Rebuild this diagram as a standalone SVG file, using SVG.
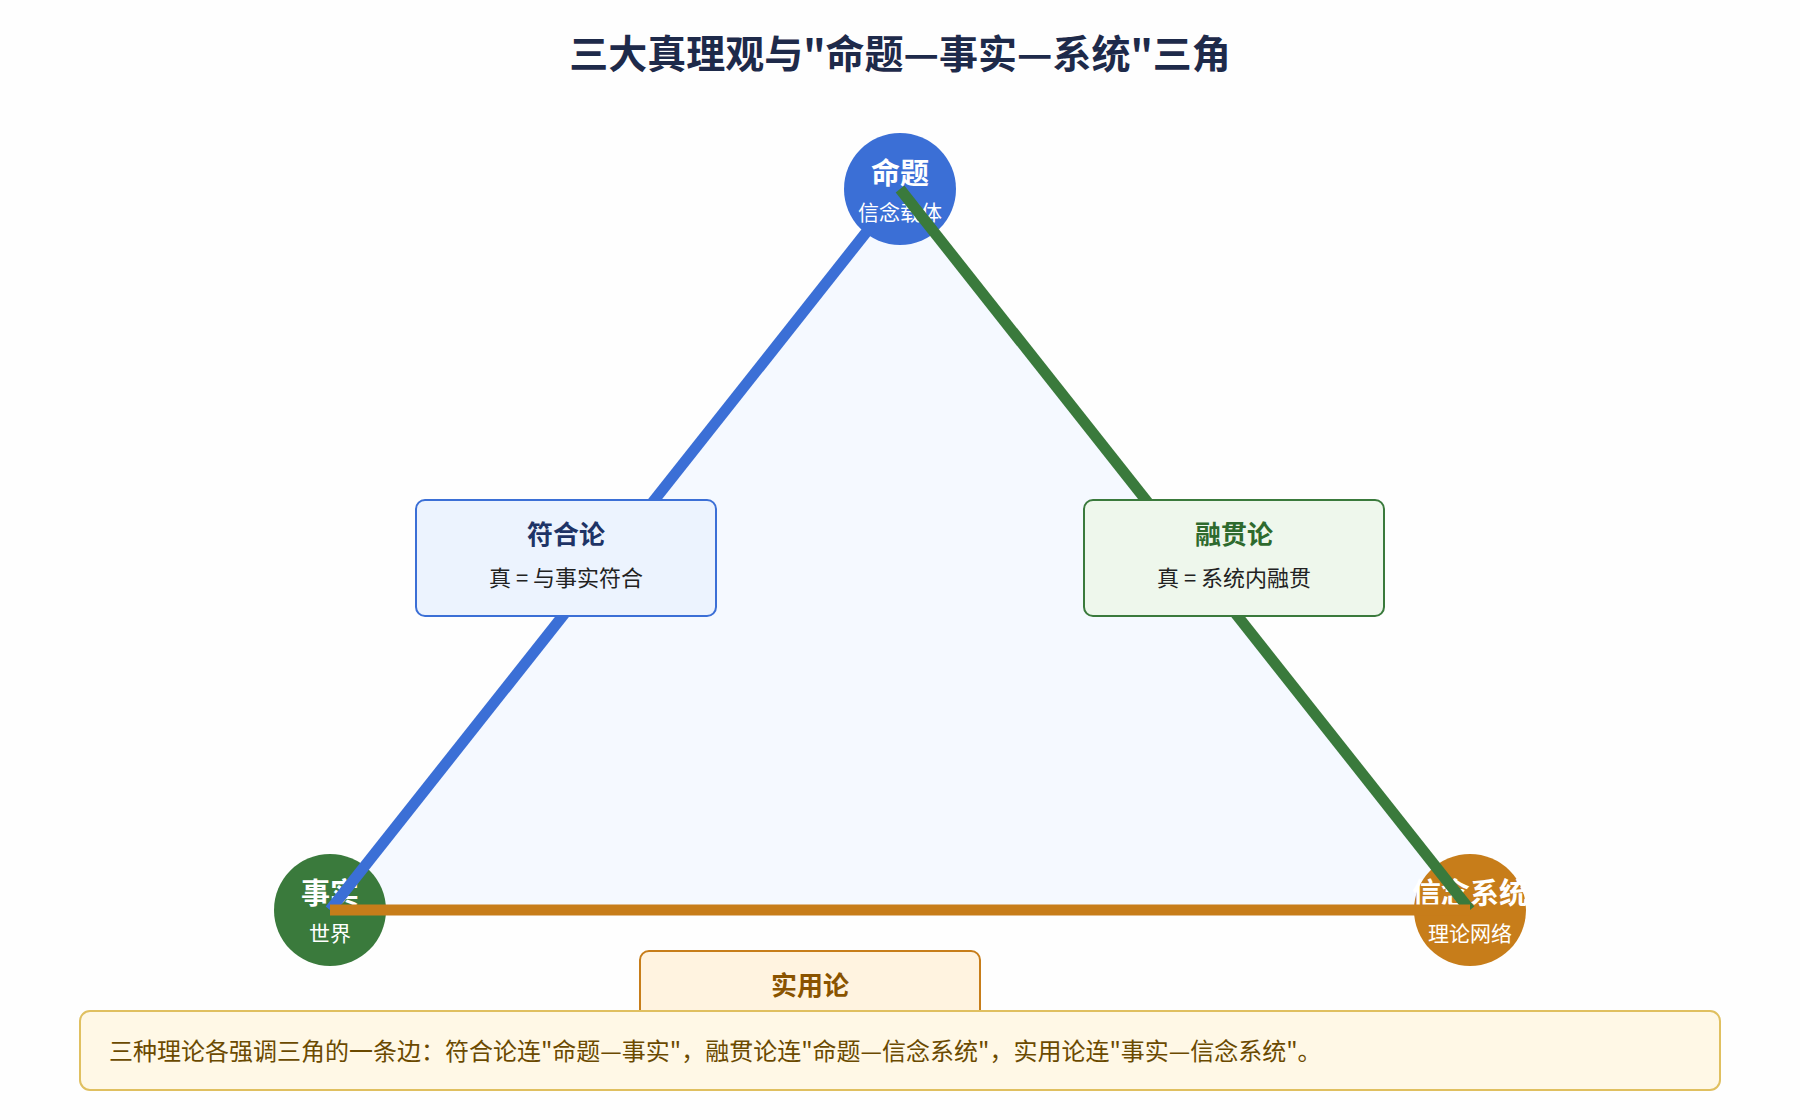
<svg xmlns="http://www.w3.org/2000/svg" width="1800" height="1120" viewBox="0 0 1800 1120">
<style>
text{font-family:"Noto Sans CJK SC","Liberation Sans",sans-serif;text-anchor:middle}
.nt{font-size:29px;font-weight:bold;fill:#fff}
.ns{font-size:21px;fill:#fff}
.bt{font-size:26px;font-weight:bold}
.bs{font-size:22px;fill:#222}
.edge{stroke-width:11;fill:none}
</style>
<rect width="1800" height="1120" fill="#fefefe"/>
<text x="900" y="68" style="font-size:39px;font-weight:bold;fill:#1e2a4a">三大真理观与"命题—事实—系统"三角</text>
<polygon points="900,189 330,910 1470,910" fill="#f5f9ff"/>
<g id="node-top"><circle cx="900" cy="189" r="56" fill="#3b6fd6"/><text class="nt" x="900" y="184">命题</text><text class="ns" x="900" y="220">信念载体</text></g>
<g id="node-left"><circle cx="330" cy="910" r="56" fill="#3a7a3c"/><text class="nt" x="330" y="904">事实</text><text class="ns" x="330" y="941">世界</text></g>
<g id="node-right"><circle cx="1470" cy="910" r="56" fill="#c77d1a"/><text class="nt" x="1470" y="904">信念系统</text><text class="ns" x="1470" y="941">理论网络</text></g>
<g id="connectors">
<line class="edge" x1="330" y1="910" x2="872" y2="225" stroke="#3b6fd6"/>
<line class="edge" x1="900" y1="189" x2="1470" y2="910" stroke="#3a7a3c"/>
<line class="edge" x1="330" y1="910" x2="1470" y2="910" stroke="#c77d1a"/>
</g>
<g id="label-corr"><rect x="416" y="500" width="300" height="116" rx="9" fill="#ecf3fe" stroke="#3b6fd6" stroke-width="2"/><text class="bt" x="566" y="544" fill="#1e3366">符合论</text><text class="bs" x="566" y="586">真 = 与事实符合</text></g>
<g id="label-coh"><rect x="1084" y="500" width="300" height="116" rx="9" fill="#eef7ec" stroke="#3a7a3c" stroke-width="2"/><text class="bt" x="1234" y="544" fill="#2e6a2e">融贯论</text><text class="bs" x="1234" y="586">真 = 系统内融贯</text></g>
<g id="label-prag"><rect x="640" y="951" width="340" height="110" rx="9" fill="#fff3e0" stroke="#c77d1a" stroke-width="2"/><text class="bt" x="810" y="995" fill="#8a5300">实用论</text></g>
<g id="note"><rect x="80" y="1011" width="1640" height="79" rx="10" fill="#fff8e6" stroke="#e0c060" stroke-width="2"/><text x="109" y="1060" style="text-anchor:start;font-size:24px;fill:#6b4a00">三种理论各强调三角的一条边：符合论连"命题—事实"，融贯论连"命题—信念系统"，实用论连"事实—信念系统"。</text></g>
</svg>
